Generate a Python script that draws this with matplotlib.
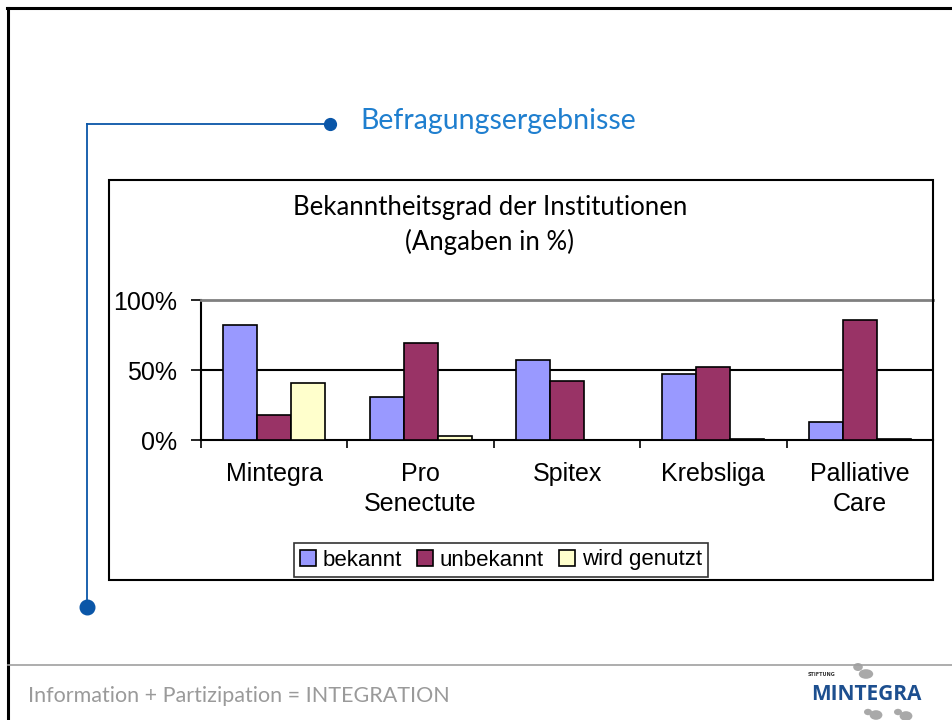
import numpy as np
import matplotlib.pyplot as plt
from matplotlib.patches import Rectangle, Ellipse
from matplotlib.lines import Line2D

# data (percent)
categories = ["Mintegra", "Pro\nSenectute", "Spitex", "Krebsliga", "Palliative\nCare"]
bekannt = [82, 31, 57, 47, 13]
unbekannt = [18, 69, 42, 52, 86]
genutzt = [41, 3, 0, 1, 1]
series_names = ["bekannt", "unbekannt", "wird genutzt"]
colors = ["#9999FF", "#993366", "#FFFFCC"]

W, H = 953, 720
fig = plt.figure(figsize=(W / 100, H / 100), dpi=100)


def fx(x):
    return x / W


def fy(y):
    return 1 - y / H


# slide frame
fig.add_artist(Line2D([fx(7), 1], [fy(8), fy(8)], color="black", lw=2.2))
fig.add_artist(Line2D([fx(8), fx(8)], [fy(8), 0], color="black", lw=2.2))
fig.add_artist(Line2D([fx(8), 1], [fy(665), fy(665)], color="#a0a0a0", lw=1.2))

# heading with connector
blue = "#0a56a8"
fig.add_artist(Line2D([fx(87), fx(330)], [fy(124), fy(124)], color=blue, lw=1.3))
fig.add_artist(Line2D([fx(87), fx(87)], [fy(124), fy(607)], color=blue, lw=1.3))
fig.add_artist(Line2D([fx(330)], [fy(124)], marker="o", ms=8.5, color=blue))
fig.add_artist(Line2D([fx(87)], [fy(607)], marker="o", ms=10.5, color=blue))
fig.text(fx(360), fy(121), "Befragungsergebnisse", color="#1f7fcf",
         fontsize=20.5, family="Lato", va="center", ha="left")

# chart box
fig.add_artist(Rectangle((fx(109), fy(580)), fx(933 - 109), (580 - 180) / H,
                         fill=False, edgecolor="black", lw=1.5))
fig.text(fx(490), fy(207), "Bekanntheitsgrad der Institutionen", fontsize=18.5,
         family="Lato", ha="center", va="center")
fig.text(fx(490), fy(242), "(Angaben in %)", fontsize=18.5,
         family="Lato", ha="center", va="center")

ax = fig.add_axes([fx(201), fy(440), fx(933 - 201), 140 / H])
x = np.arange(len(categories))
w = 0.232
for i, (vals, name, c) in enumerate(zip([bekannt, unbekannt, genutzt], series_names, colors)):
    ax.bar(x + (i - 1) * w, vals, w, color=c, edgecolor="black", lw=1.2,
           label=name, zorder=3)

ax.set_xlim(-0.5, len(categories) - 0.5)
ax.set_ylim(0, 100)
ax.set_yticks([0, 50, 100])
ax.set_yticklabels(["0%", "50%", "100%"], fontsize=18, family="Liberation Sans")
ax.axhline(50, color="black", lw=1.5, zorder=1)
ax.set_xticks(x)
ax.set_xticklabels(categories, fontsize=18, family="Liberation Sans", linespacing=1.3)
ax.set_xticks(np.arange(len(categories) + 1) - 0.5, minor=True)
ax.tick_params(axis="x", which="major", length=0, pad=16)
ax.tick_params(axis="x", which="minor", length=6, width=1.2, direction="out")
ax.tick_params(axis="y", length=7, width=1.2, direction="out", pad=10)
for s in ["left", "bottom"]:
    ax.spines[s].set_color("black")
    ax.spines[s].set_linewidth(1.5)
ax.spines["top"].set_color("#808080")
ax.spines["top"].set_linewidth(2)
ax.spines["right"].set_visible(False)

leg = fig.legend(loc="center", bbox_to_anchor=(fx(501), fy(560)), ncol=3,
                 frameon=True, fancybox=False, edgecolor="black",
                 prop={"family": "Liberation Sans", "size": 16},
                 handlelength=0.7, handleheight=0.7, handletextpad=0.3,
                 columnspacing=0.7, borderpad=0.3, borderaxespad=0)
leg.get_frame().set_linewidth(1.2)

# footer
fig.text(fx(28), fy(696), "Information + Partizipation = INTEGRATION", color="#9a9a9a",
         fontsize=15.5, family="Lato", va="center", ha="left")

# logo
fig.text(fx(808), fy(675), "STIFTUNG", fontsize=3.5, color="#333333", weight="bold",
         va="center", ha="left")
fig.text(fx(866), fy(694), "MINTEGRA", fontsize=15, color="#1d4f8f", weight="bold",
         family="Open Sans", va="center", ha="center")
for cx, cy, rw, rh in [(858, 667, 6, 5), (866, 674, 9, 6), (868, 712, 5, 4),
                       (876, 715, 8, 6), (898, 712, 5, 4), (906, 716, 8, 6)]:
    fig.add_artist(Ellipse((fx(cx), fy(cy)), fx(rw * 1.6), rh * 1.6 / H,
                           color="#a9a9a9", lw=0))

fig.savefig("out.png", dpi=100)
